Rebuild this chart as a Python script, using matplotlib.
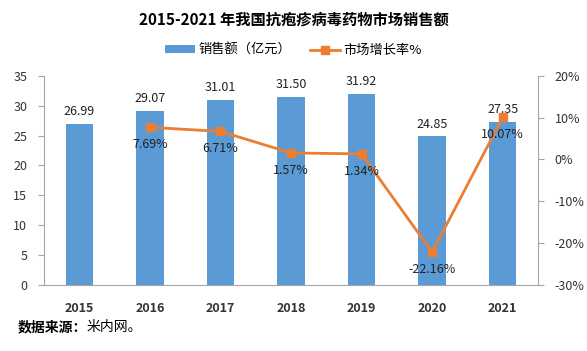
import matplotlib
matplotlib.use("Agg")
import matplotlib.pyplot as plt
from matplotlib.patches import Patch
from matplotlib.lines import Line2D

plt.rcParams['font.family'] = ['Noto Sans CJK SC', 'DejaVu Sans']

years = ['2015', '2016', '2017', '2018', '2019', '2020', '2021']
sales = [26.99, 29.07, 31.01, 31.50, 31.92, 24.85, 27.35]
growth_years = ['2016', '2017', '2018', '2019', '2020', '2021']
growth = [7.69, 6.71, 1.57, 1.34, -22.16, 10.07]
left_ticks = [0, 5, 10, 15, 20, 25, 30, 35]
right_ticks = [-30, -20, -10, 0, 10, 20]

bar_color = '#5B9BD5'
line_color = '#ED7D31'
axis_color = '#A6A6A6'

fig = plt.figure(figsize=(5.87, 3.51), dpi=100)
ax = fig.add_axes([0.075, 0.188, 0.8415, 0.596])
ax2 = ax.twinx()

x = list(range(len(years)))
ax.bar(x, sales, width=0.39, color=bar_color, zorder=2)
for xi, v in zip(x, sales):
    ax.text(xi, v + 1.0, f'{v:.2f}', ha='center', va='bottom', fontsize=9, color='#222222')

ax.set_xlim(-0.5, len(years) - 0.5)
ax.set_ylim(0, 35)
ax.set_yticks(left_ticks)
ax.set_xticks(x)
ax.set_xticklabels(years, fontsize=9, fontweight='bold', color='#333333')
ax.tick_params(axis='x', length=0, pad=12)
ax.tick_params(axis='y', length=4, color=axis_color, labelsize=9, labelcolor='#333333', direction='out', pad=8)

gx = [years.index(y) for y in growth_years]
ax2.plot(gx, growth, color=line_color, lw=2, marker='s', markersize=6, zorder=3)
for xi, v in zip(gx, growth):
    ax2.text(xi, v - 2.6, f'{v:.2f}%', ha='center', va='top', fontsize=9, color='#222222')
ax2.set_ylim(-30, 20)
ax2.set_yticks(right_ticks)
ax2.set_yticklabels([f'{t}%' for t in right_ticks])
ax2.tick_params(axis='y', length=4, color=axis_color, labelsize=9, labelcolor='#333333', direction='out', pad=8)

for a in (ax, ax2):
    a.spines['top'].set_visible(False)
    for s in ('left', 'right', 'bottom'):
        a.spines[s].set_color(axis_color)
ax.spines['right'].set_visible(False)
ax2.spines['left'].set_visible(False)
ax2.spines['bottom'].set_visible(False)

fig.text(0.5, 0.943, '2015-2021 年我国抗疱疹病毒药物市场销售额', ha='center', va='center',
         fontsize=11, fontweight='bold', color='#000000')

handles = [Patch(facecolor=bar_color, label='销售额（亿元）'),
           Line2D([0], [0], color=line_color, lw=2, marker='s', markersize=6, label='市场增长率%')]
fig.legend(handles=handles, loc='center', bbox_to_anchor=(0.5, 0.857), ncol=2, frameon=False,
           fontsize=9.5, handlelength=2.3, handleheight=0.45, handletextpad=0.25, columnspacing=1.4)

fig.text(0.03, 0.068, '数据来源：', ha='left', va='center', fontsize=10, fontweight='bold')
fig.text(0.148, 0.068, '米内网。', ha='left', va='center', fontsize=10)

fig.savefig('out.png', dpi=100)
